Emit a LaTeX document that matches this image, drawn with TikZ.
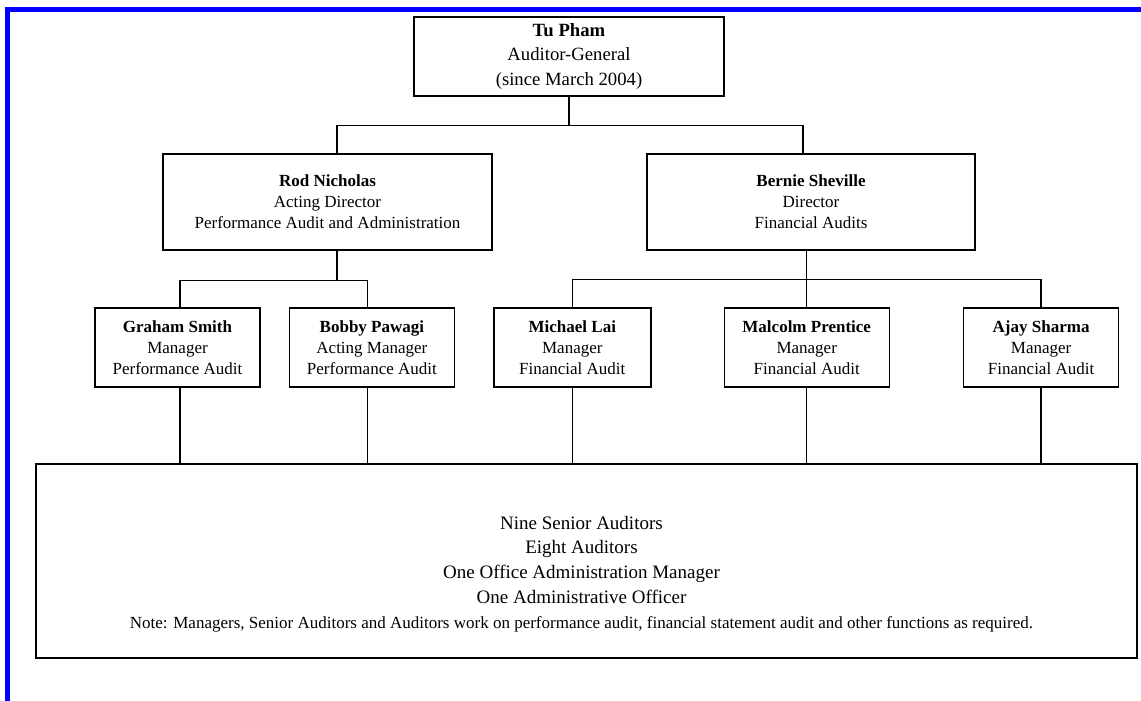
\documentclass[tikz,border=0pt]{standalone}
\usepackage{fontspec}
\setmainfont{Liberation Serif}
\usetikzlibrary{positioning,calc}
\definecolor{frameblue}{rgb}{0,0,1}
\tikzset{
	post/.style={
		rectangle,
		draw, line width=1.4pt,
		inner sep=0pt,
		minimum height=79pt,
		align=center,
		font=\fontsize{17}{21}\selectfont},
	line/.style={draw, line width=1.3pt},
	staffline/.style={font=\fontsize{19}{24.8}\selectfont, align=center},
}

\begin{document}
\begin{tikzpicture}[x=1pt,y=-1pt]
\useasboundingbox (0,0) rectangle (1141,701);
% page frame
\draw[frameblue, line width=5pt] (7.5,701) -- (7.5,9.5) -- (1141,9.5);

% auditor-general
\node[post, minimum width=310pt, font=\fontsize{18.7}{24.5}\selectfont] (tupham) at (569,56.5)
	{\textbf{Tu Pham}\\Auditor-General\\(since March 2004)};

% directors
\node[post, minimum width=329pt, minimum height=96pt] (rod) at (327.5,202)
	{\textbf{Rod Nicholas}\\Acting Director\\Performance Audit and Administration};
\node[post, minimum width=328pt, minimum height=96pt] (bernie) at (811,202)
	{\textbf{Bernie Sheville}\\Director\\Financial Audits};

% managers
\node[post, minimum width=165pt] (graham) at (177.5,347.5)
	{\textbf{Graham Smith}\\Manager\\Performance Audit};
\node[post, minimum width=165pt, right=28pt of graham] (bobby)
	{\textbf{Bobby Pawagi}\\Acting Manager\\Performance Audit};
\node[post, minimum width=157pt, right=38pt of bobby] (michael)
	{\textbf{Michael Lai}\\Manager\\Financial Audit};
\node[post, minimum width=165pt, right=72pt of michael] (malcolm)
	{\textbf{Malcolm Prentice}\\Manager\\Financial Audit};
\node[post, minimum width=155pt, right=73pt of malcolm] (ajay)
	{\textbf{Ajay Sharma}\\Manager\\Financial Audit};

% staff pool
\node[post, minimum width=1101pt, minimum height=194pt] (staff) at (586.5,561) {};
\node[staffline] (stafftext) at ([xshift=-5pt,yshift=-13pt]staff.center)
	{Nine Senior Auditors\\Eight Auditors\\One Office Administration Manager\\One Administrative Officer\\
	{\fontsize{17}{24.8}\selectfont Note: Managers, Senior Auditors and Auditors work on performance audit, financial statement audit and other functions as required.}};

% connectors
\coordinate (topbus) at ($(tupham.south)+(0,29)$);
\draw[line] (tupham.south) -- (topbus);
\draw[line] ([xshift=9.5pt]rod.north) |- (topbus) -| ([xshift=-8pt]bernie.north);
\draw[line] ([xshift=9.5pt]rod.south) -- ++(0,30) coordinate (rodbus);
\draw[line] ([xshift=2.5pt]graham.north) |- (rodbus) -| ([xshift=-4.5pt]bobby.north);
\draw[line] (malcolm.north |- bernie.south) -- (malcolm.north);
\draw[line] (michael.north) |- ([yshift=28pt]malcolm.north) -| (ajay.north);
\draw[line] ([xshift=2.5pt]graham.south) -- ([xshift=2.5pt]graham.south |- staff.north);
\draw[line] ([xshift=-4.5pt]bobby.south) -- ([xshift=-4.5pt]bobby.south |- staff.north);
\foreach \m in {michael,malcolm,ajay}
	\draw[line] (\m.south) -- (\m.south |- staff.north);
\end{tikzpicture}
\end{document}
